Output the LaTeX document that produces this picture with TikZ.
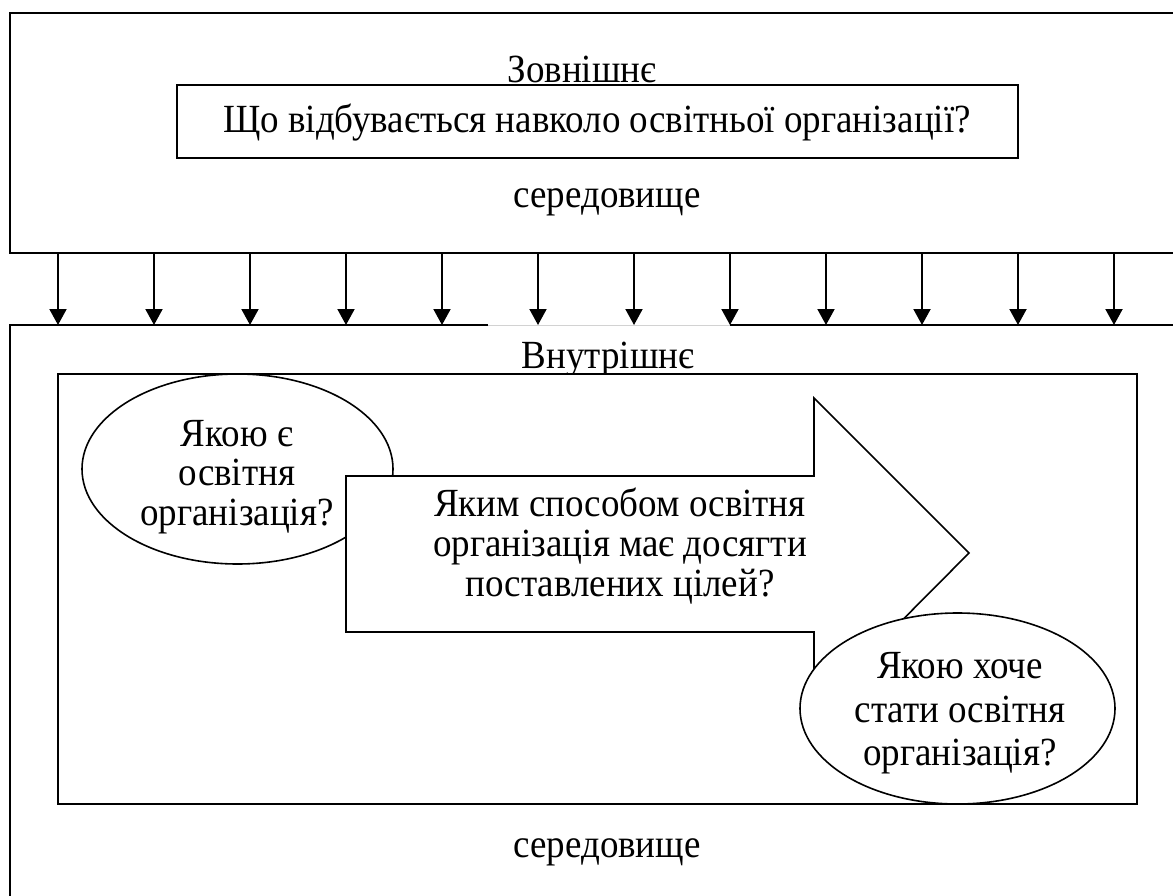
\documentclass[tikz,border=0pt]{standalone}
\usepackage{fontspec}
\setmainfont{Liberation Serif}
\usetikzlibrary{arrows.meta,shapes.geometric}

% text set slightly taller than the font's own proportions
\newcommand{\tallline}[1]{\scalebox{1}[1.08]{#1}}
\newcommand{\tallblock}[2][37]{\scalebox{1}[1.08]{\fontsize{37}{#1}\selectfont\renewcommand{\arraystretch}{1}\begin{tabular}{@{}c@{}}#2\end{tabular}}}

\begin{document}
\begin{tikzpicture}[x=1pt,y=-1pt,
  frame/.style={line width=2pt},
  pathline/.style={line width=2pt,-{Triangle[width=17pt,length=16pt]}},
  txt/.style={font=\fontsize{37}{40}\selectfont,inner sep=0pt,align=center},
  oval/.style={ellipse,draw,line width=1.6pt,fill=white,inner sep=0pt},
  shapeline/.style={line width=1.6pt}
]
\clip (0,0) rectangle (1173,896);
\fill[white] (0,0) rectangle (1173,896);

% outer environment (upper band)
\draw[frame] (1185,13) -- (10,13) -- (10,253) -- (1185,253);
\node[txt,anchor=base] (zovn) at (582,83) {\tallline{Зовнішнє}};
\node[draw,line width=1.6pt,minimum width=841pt,minimum height=73pt,inner sep=0pt] (q) at (597.5,121.5) {};
\node[txt,anchor=base] (qt) at (597,133) {\tallline{Що відбувається навколо освітньої організації?}};
\node[txt,anchor=base] (sered1) at (607,208) {\tallline{середовище}};

% inner environment (lower band)
\draw[frame] (1185,325) -- (730,325);
\draw[gray!35,line width=1pt] (730,325) -- (488,325);
\draw[frame] (488,325) -- (10,325) -- (10,905);

% influence arrows between the two bands
\foreach \i in {0,...,11}{
  \coordinate (s\i) at ({58+96*\i},253);
  \coordinate (t\i) at ({58+96*\i},325);
  \draw[pathline] (s\i) -- (t\i);
}

\begin{scope}
  \clip (0,330) rectangle (1173,373);
  \node[txt,anchor=base] (vnutr) at (608,368) {\tallline{Внутрішнє}};
\end{scope}
\node[txt,anchor=base] (sered2) at (607,857) {\tallline{середовище}};

% organisation box
\node[draw,line width=1.8pt,minimum width=1079pt,minimum height=430pt,inner sep=0pt] (org) at (597.5,589) {};

% current state
\node[oval,minimum width=311pt,minimum height=190pt] (now) at (237.5,469) {};
\begin{scope}
  \clip (82,374) rectangle (393,534);
  \node[txt] (nowt) at (237,478) {\tallblock{Якою є\\освітня\\організація?}};
\end{scope}

% the way forward
\draw[shapeline,fill=white] (346,476) -- (814,476) -- (814,398) -- (969,553)
  -- (814,709) -- (814,632) -- (346,632) -- cycle;
\node[txt] (way) at (620,548) {\tallblock{Яким способом освітня\\організація має досягти\\поставлених цілей?}};

% desired state
\node[oval,minimum width=315pt,minimum height=191pt] (goal) at (957.5,708.5) {};
\node[txt] (goalt) at (960,713.5) {\tallblock[40]{Якою хоче\\стати освітня\\організація?}};
\end{tikzpicture}
\end{document}
